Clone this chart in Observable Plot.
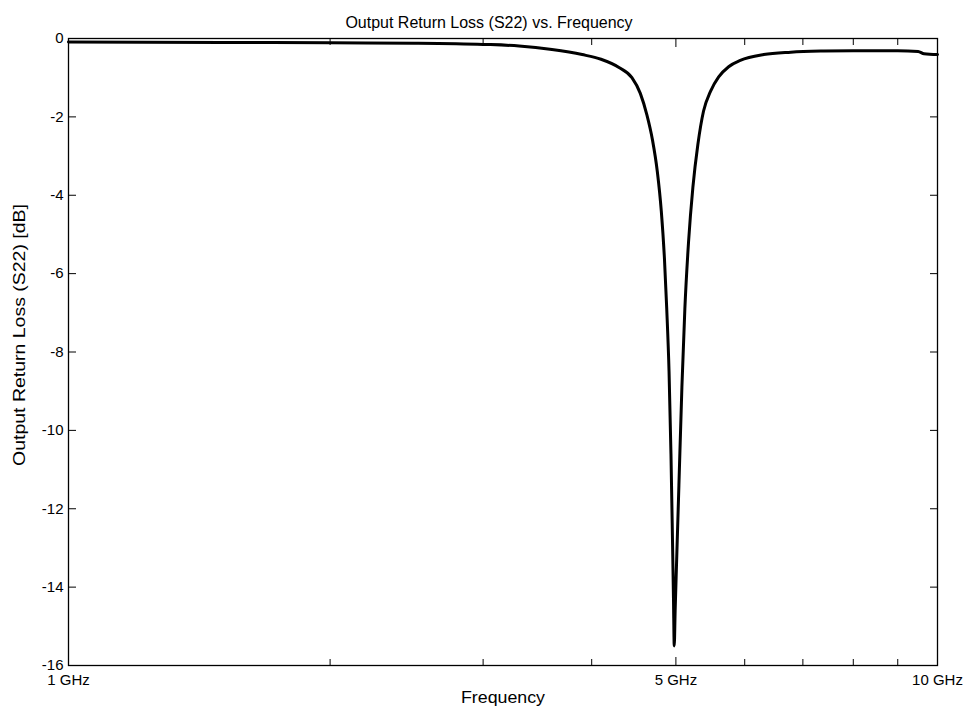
<!DOCTYPE html>
<html>
<head>
<meta charset="utf-8">
<script src="https://cdn.jsdelivr.net/npm/d3@7"></script>
<script src="https://cdn.jsdelivr.net/npm/@observablehq/plot@0.6"></script>
<style>
  body { margin: 0; background: #fff; }
  #chart svg { display: block; font-family: "Liberation Sans", Arial, sans-serif; }
</style>
</head>
<body>
<div id="chart"></div>
<script>
// Frequency in GHz and S22 in dB
const freqGHz = [1.0, 1.5, 2.0, 2.5, 3.0, 3.3, 3.6, 3.9, 4.1, 4.3, 4.45, 4.55, 4.63, 4.70, 4.76, 4.81, 4.85, 4.88, 4.91, 4.935, 4.955, 4.968, 4.978, 4.99, 5.01, 5.04, 5.08, 5.12, 5.17, 5.23, 5.30, 5.38, 5.48, 5.6, 5.75, 5.93, 6.31, 6.78, 7.4, 8.0, 9.0, 9.5, 9.65, 10.0];
const s22dB   = [-0.09, -0.10, -0.11, -0.12, -0.15, -0.19, -0.28, -0.41, -0.53, -0.74, -1.0, -1.4, -1.95, -2.6, -3.4, -4.4, -5.6, -6.9, -8.5, -10.6, -12.8, -14.3, -15.5, -14.6, -13.3, -11.4, -8.9, -6.9, -5.2, -3.8, -2.7, -1.85, -1.35, -0.98, -0.72, -0.56, -0.41, -0.35, -0.32, -0.31, -0.31, -0.33, -0.39, -0.41];

const xMajorTicks = [1, 5, 10];
const xMajorLabels = ["1 GHz", "5 GHz", "10 GHz"];
const xMinorTicks = [2, 3, 4, 6, 7, 8, 9];
const yTicks = [0, -2, -4, -6, -8, -10, -12, -14, -16];

const titleText = "Output Return Loss (S22) vs. Frequency";
const xLabelText = "Frequency";
const yLabelText = "Output Return Loss (S22) [dB]";

const data = freqGHz.map((f, i) => ({f, db: s22dB[i]}));
const labelOf = new Map(xMajorTicks.map((t, i) => [t, xMajorLabels[i]]));
const blank = () => "";

const chart = Plot.plot({
  width: 966,
  height: 710,
  marginLeft: 68,
  marginRight: 29,
  marginTop: 38,
  marginBottom: 45,
  style: {fontSize: "15px", fontFamily: "'Liberation Sans', Arial, sans-serif", color: "#000", background: "#fff"},
  x: {type: "log", domain: [1, 10]},
  y: {domain: [-16, 0]},
  marks: [
    Plot.frame({stroke: "#000", strokeWidth: 1.3}),
    // inward ticks on all four sides
    Plot.axisX({anchor: "bottom", ticks: xMajorTicks, tickSize: -8, tickFormat: blank, label: null}),
    Plot.axisX({anchor: "top", ticks: xMajorTicks, tickSize: -8, tickFormat: blank, label: null}),
    Plot.axisX({anchor: "bottom", ticks: xMinorTicks, tickSize: -6, tickFormat: blank, label: null}),
    Plot.axisX({anchor: "top", ticks: xMinorTicks, tickSize: -6, tickFormat: blank, label: null}),
    Plot.axisX({anchor: "bottom", ticks: xMajorTicks, tickSize: 0, tickPadding: 9, fontSize: 15, tickFormat: d => labelOf.get(d), label: null}),
    Plot.axisY({anchor: "left", ticks: yTicks, tickSize: -8, tickFormat: blank, label: null}),
    Plot.axisY({anchor: "right", ticks: yTicks, tickSize: -8, tickFormat: blank, label: null}),
    Plot.axisY({anchor: "left", ticks: yTicks, tickSize: 0, tickPadding: 5, fontSize: 15, tickFormat: d => String(d), label: null}),
    Plot.line(data, {x: "f", y: "db", stroke: "#000", strokeWidth: 3, curve: "monotone-x"}),
    Plot.text([titleText], {frameAnchor: "top", dx: -14, dy: -22, fontSize: 16}),
    Plot.text([xLabelText], {frameAnchor: "bottom", dy: 37, fontSize: 16, className: "xlab"}),
    Plot.text([yLabelText], {frameAnchor: "left", textAnchor: "start", dx: -49, dy: 114, rotate: -90, fontSize: 16, className: "ylab"})
  ]
});
// stretch the labels to the lengths seen in the reference
d3.select(chart).selectAll(".ylab text").attr("textLength", 262).attr("lengthAdjust", "spacingAndGlyphs");
d3.select(chart).selectAll(".xlab text").attr("textLength", 84).attr("lengthAdjust", "spacingAndGlyphs");
document.getElementById("chart").append(chart);
</script>
</body>
</html>
